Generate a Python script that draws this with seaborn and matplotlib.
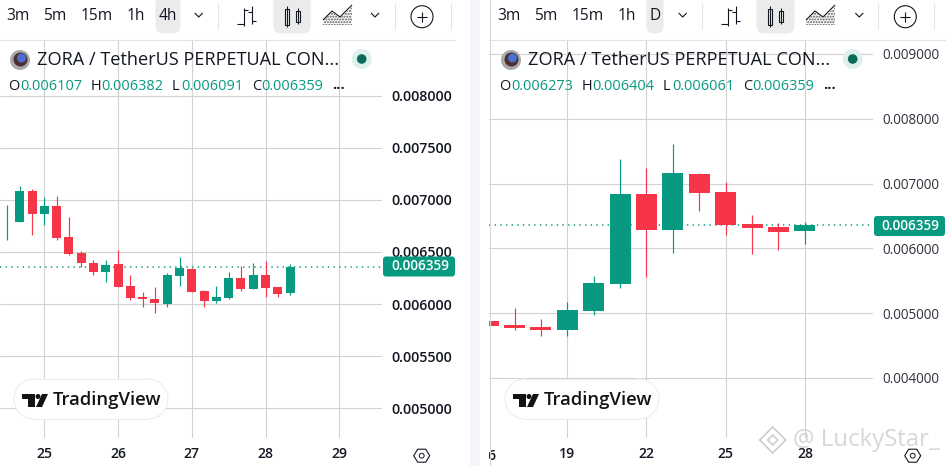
from __future__ import annotations

import matplotlib

matplotlib.use("Agg")
import matplotlib.pyplot as plt
import numpy as np
import pandas as pd
import seaborn as sns
from matplotlib.patches import Circle, FancyBboxPatch, Polygon, Rectangle

GREEN = "#089981"
RED = "#F63648"
GRID = "#D2D2D2"
INK = "#131722"
W, H = 946, 466

# 4h candles
open_4h = [0.006795, 0.006789, 0.007086, 0.006865, 0.006942, 0.006645, 0.006492, 0.006396,
           0.006310, 0.006386, 0.006176, 0.006070, 0.006051, 0.006003, 0.006271, 0.006338,
           0.006128, 0.006032, 0.006061, 0.006252, 0.006147, 0.006281, 0.006166, 0.006107]
high_4h = [0.006951, 0.007134, 0.007105, 0.007028, 0.007038, 0.006837, 0.006511, 0.006425,
           0.006425, 0.006520, 0.006281, 0.006118, 0.006166, 0.006300, 0.006453, 0.006348,
           0.006137, 0.006176, 0.006310, 0.006367, 0.006396, 0.006415, 0.006166, 0.006382]
low_4h = [0.006616, 0.006789, 0.006664, 0.006760, 0.006616, 0.006473, 0.006358, 0.006281,
          0.006214, 0.006166, 0.006042, 0.005974, 0.005917, 0.005974, 0.006176, 0.006118,
          0.005974, 0.006013, 0.006051, 0.006128, 0.006147, 0.006070, 0.006070, 0.006091]
close_4h = [0.006797, 0.007086, 0.006865, 0.006942, 0.006635, 0.006482, 0.006396, 0.006310,
            0.006377, 0.006166, 0.006061, 0.006051, 0.006013, 0.006281, 0.006348, 0.006118,
            0.006032, 0.006070, 0.006252, 0.006147, 0.006281, 0.006156, 0.006099, 0.006359]
first_day_4h = 24.5
ticks_4h = [25, 26, 27, 28, 29]
prices_4h = [0.005, 0.0055, 0.006, 0.0065, 0.007, 0.0075, 0.008]

# daily candles
days_1d = [16, 17, 18, 19, 20, 21, 22, 23, 24, 25, 26, 27, 28]
open_1d = [0.004873, 0.004811, 0.004780, 0.004734, 0.005028, 0.005447, 0.006842,
           0.006284, 0.007152, 0.006873, 0.006377, 0.006331, 0.006273]
high_1d = [0.004873, 0.005075, 0.004904, 0.005168, 0.005571, 0.007385, 0.007245,
           0.007618, 0.007168, 0.007028, 0.006517, 0.006393, 0.006404]
low_1d = [0.004796, 0.004734, 0.004641, 0.004641, 0.004966, 0.005385, 0.005556,
          0.005928, 0.006579, 0.006207, 0.005912, 0.005974, 0.006061]
close_1d = [0.004796, 0.004765, 0.004734, 0.005044, 0.005463, 0.006842, 0.006284,
            0.007168, 0.006858, 0.006362, 0.006315, 0.006253, 0.006359]
ticks_1d = [19, 22, 25, 28]
prices_1d = [0.004, 0.005, 0.006, 0.007, 0.008, 0.009]

last_price = 0.006359
ohlc_4h = ["0.006107", "0.006382", "0.006091", "0.006359"]
ohlc_1d = ["0.006273", "0.006404", "0.006061", "0.006359"]
title = "ZORA / TetherUS PERPETUAL CON..."

sns.set_theme(style="white")
plt.rcParams["font.family"] = ["Open Sans", "DejaVu Sans"]

fig = plt.figure(figsize=(W / 100, H / 100), dpi=100, facecolor="white")


def px(n):
    return n * 0.72


def add_chart(x0, x1, y_top, y_bot, xlim, ylim):
    ax = fig.add_axes([x0 / W, 1 - y_bot / H, (x1 - x0) / W, (y_bot - y_top) / H])
    ax.set_xlim(*xlim)
    ax.set_ylim(*ylim)
    sns.despine(ax=ax, left=True, bottom=True, right=True, top=True)
    ax.set_facecolor("none")
    return ax


def candles(ax, days, o, h, l, c, width):
    df = pd.DataFrame({"day": days, "open": o, "high": h, "low": l, "close": c})
    df["up"] = df["close"] >= df["open"]
    wicks = df.melt(id_vars=["day", "up"], value_vars=["high", "low"], value_name="price")
    sns.lineplot(data=wicks, x="day", y="price", hue="up", units="day", estimator=None,
                 palette={True: GREEN, False: RED}, legend=False, lw=0.85, ax=ax, zorder=3,
                 solid_capstyle="butt")
    ax.bar(df["day"], (df["close"] - df["open"]).abs(), bottom=df[["open", "close"]].min(axis=1),
           width=width, color=df["up"].map({True: GREEN, False: RED}), linewidth=0, zorder=4)
    ax.set_xlabel("")
    ax.set_ylabel("")


def finish_axes(ax, xticks, yticks, bold, ycolor, ysize):
    ax.set_xticks(xticks)
    ax.set_yticks(yticks)
    ax.set_yticklabels([f"{v:.6f}" for v in yticks])
    ax.yaxis.tick_right()
    ax.grid(True, color=GRID, lw=0.8, zorder=0)
    ax.set_axisbelow(True)
    ax.tick_params(axis="both", length=0, colors=INK)
    ax.tick_params(axis="y", pad=px(9), labelsize=px(ysize))
    ax.tick_params(axis="x", pad=px(9), labelsize=px(14))
    for t in ax.get_yticklabels():
        t.set_fontweight(bold)
        t.set_color(ycolor)
    for t in ax.get_xticklabels():
        t.set_fontweight("semibold")
    ax.axhline(last_price, color=GREEN, lw=1.1, ls=(0, (0.9, 2.8)), zorder=2)


left = add_chart(0, 382, 40, 438, (24.399, 29.579), (0.004717, 0.008532))
days_4h = first_day_4h + np.arange(len(open_4h)) / 6
candles(left, days_4h, open_4h, high_4h, low_4h, close_4h, 0.122)
finish_axes(left, ticks_4h, prices_4h, "semibold", INK, 14.2)

right = add_chart(489, 873, 40, 438, (16.034, 30.58), (0.003074, 0.009216))
candles(right, days_1d, open_1d, high_1d, low_1d, close_1d, 0.795)
finish_axes(right, ticks_1d, prices_1d, "normal", "#2E323C", 13.5)

# everything around the charts lives in a pixel-space overlay
ov = fig.add_axes([0, 0, 1, 1], zorder=10)
ov.set_xlim(0, W)
ov.set_ylim(H, 0)
ov.axis("off")
ov.patch.set_alpha(0)


def label(x, y, s, size=15, color=INK, ha="center", weight="normal", **kw):
    return ov.text(x, y, s, fontsize=px(size), color=color, ha=ha, va="center",
                   fontweight=weight, **kw)


def seg(xs, ys, color=INK, lw=0.8, **kw):
    ov.plot(xs, ys, color=color, lw=lw, solid_capstyle="butt", **kw)


def chevron(x, y):
    seg([x - 4, x, x + 4], [y - 2, y + 2, y - 2], lw=0.8)


def highlight(x0, x1):
    ov.add_patch(FancyBboxPatch((x0 + 4, -6), x1 - x0 - 8, 37, boxstyle="round,pad=0,rounding_size=5",
                                mutation_aspect=1, fc="#EBEBEB", ec="#EBEBEB", lw=5 * 0.72))


def toolbar(xs, active):
    for x, s in zip(xs["labels"], ["3m", "5m", "15m", "1h", active]):
        label(x, 16, s, size=15.5)
    highlight(*xs["active"])
    highlight(*xs["candle"])
    chevron(xs["chev1"], 15)
    chevron(xs["chev2"], 15)
    for d in xs["div"]:
        seg([d, d], [3, 29], color="#E4E4E4")
    # bars icon
    b = xs["bars"]
    seg([b - 3, b - 3], [8, 26])
    seg([b - 10, b - 3], [24, 24])
    seg([b - 3, b + 1], [10, 10])
    seg([b + 5, b + 5], [6, 24])
    seg([b + 1, b + 5], [12, 12])
    seg([b + 5, b + 9], [21, 21])
    # candles icon
    c = xs["cand"]
    seg([c, c], [6, 27])
    ov.add_patch(Rectangle((c - 2, 8.5), 4, 16.5, fc="#EBEBEB", ec=INK, lw=0.8))
    seg([c + 11, c + 11], [8, 24])
    ov.add_patch(Rectangle((c + 9, 11), 4, 10.5, fc="#EBEBEB", ec=INK, lw=0.8))
    # area icon
    a = xs["area"]
    ov.add_patch(Polygon([(a, 25), (a, 21), (a + 9, 12), (a + 17, 18), (a + 29, 7), (a + 29, 25)],
                         fc="none", ec="#555555", hatch="......", lw=0))
    seg([a, a + 9, a + 17, a + 29], [20, 11, 17, 5], lw=0.8)
    # plus
    p = xs["plus"]
    ov.add_patch(Circle((p, 16.7), 11, fc="none", ec=INK, lw=0.8))
    seg([p - 5, p + 5], [16.7, 16.7])
    seg([p, p], [11.7, 21.7])


def header(dx, ohlc):
    ov.add_patch(Circle((20 + dx, 60), 10, fc="#A9A9AD", ec="none"))
    ov.add_patch(Circle((20.5 + dx, 59.5), 7, fc="#4A2F2C", ec="none"))
    ov.add_patch(Circle((21.5 + dx, 58), 4.5, fc="#4A6FD0", ec="none"))
    label(36.7 + dx, 60, title, size=18.1, ha="left")
    ov.add_patch(Circle((361.7 + dx, 59), 10, fc="#DDF0EC", ec="none"))
    ov.add_patch(Circle((361.7 + dx, 59), 4.8, fc="#0B6B5A", ec="none"))
    for x, letter, vx, val in zip([8, 90.7, 172, 251.7], "OHLC", [20, 101.7, 181, 261.7], ohlc):
        label(x + dx, 86, letter, size=14.5, ha="left")
        label(vx + dx, 86, val, size=14.5, ha="left", color=GREEN)
    label(332.5 + dx, 85, "...", size=14.5, ha="left", weight="bold")


def price_tag(x0, x1, y):
    ov.add_patch(FancyBboxPatch((x0 + 2, y - 9), x1 - x0 - 4, 18, boxstyle="round,pad=0,rounding_size=2",
                                fc=GREEN, ec=GREEN, lw=2 * 0.72))
    label((x0 + x1) / 2 + 1, y, f"{last_price:.6f}", size=13.5, color="white", weight="semibold")


def logo(dx):
    for cx in (34 + dx, 148 + dx):
        ov.add_patch(Circle((cx, 399), 20, fc="white", ec="#EDEDED", lw=0.8))
    ov.add_patch(Rectangle((33 + dx, 379), 116, 40, fc="white", ec="none"))
    seg([34 + dx, 148 + dx], [379, 379], color="#EDEDED")
    seg([34 + dx, 148 + dx], [419, 419], color="#EDEDED")
    ov.add_patch(Rectangle((22 + dx, 394), 12.5, 5, fc="#131313", ec="none"))
    ov.add_patch(Rectangle((28 + dx, 394), 6.5, 13, fc="#131313", ec="none"))
    ov.add_patch(Circle((38 + dx, 396.5), 2.5, fc="#131313", ec="none"))
    ov.add_patch(Polygon([(42 + dx, 394), (48 + dx, 394), (42 + dx, 407), (36 + dx, 407)], fc="#131313", ec="none"))
    label(53 + dx, 400, "TradingView", size=18.5, ha="left", weight="semibold", color="#131313")


def hexagon(cx, cy):
    ov.add_patch(Polygon([(cx - 8, cy), (cx - 4, cy - 6.5), (cx + 4, cy - 6.5), (cx + 8, cy),
                          (cx + 4, cy + 6.5), (cx - 4, cy + 6.5)], fc="white", ec=INK, lw=0.8, zorder=6))
    ov.add_patch(Circle((cx, cy), 2.4, fc="white", ec=INK, lw=0.7, zorder=7))


seg([0, 460], [39.5, 39.5], color="#E0E3E8")
seg([489, 946], [39.5, 39.5], color="#E0E3E8")

toolbar({"labels": [17.5, 55, 96.7, 135.7, 167.7], "active": (154, 182), "candle": (272, 312),
         "chev1": 198.7, "chev2": 375, "div": [218, 394.7, 450.7], "bars": 247, "cand": 287,
         "area": 323, "plus": 422}, "4h")
toolbar({"labels": [508.5, 546, 587.7, 626.7, 655.3], "active": (645, 665), "candle": (755, 796),
         "chev1": 682.7, "chev2": 859.3, "div": [701.7, 877.7, 934], "bars": 731, "cand": 770,
         "area": 806, "plus": 905.3}, "D")

header(0, ohlc_4h)
header(491, ohlc_1d)
price_tag(382, 456, 266.5)
price_tag(873, 946, 226)
logo(0)
logo(491)
hexagon(421.7, 455.7)

# the "16" label is cut by the panel edge: white gap and pale strip sit on top of it
label(489, 455.5, "16", size=14, weight="semibold")
ov.add_patch(Rectangle((456, 0), 33, H, fc="white", ec="none", zorder=4))
ov.add_patch(Rectangle((470, 0), 10, H, fc="#F4F5F9", ec="none", zorder=5))
seg([489.5, 489.5], [0, H], color="#D8D8D8", zorder=5)

# watermark
wm = "#D0D0D0"
for r in (13, 5):
    ov.add_patch(Polygon([(772.7 - r, 440), (772.7, 440 - r), (772.7 + r, 440), (772.7, 440 + r)],
                         fc="none", ec=wm, lw=1.3, zorder=8))
label(792.5, 440, "@ LuckyStar_", size=24, ha="left", color=wm, zorder=8, alpha=0.85)
hexagon(912.7, 455.7)

fig.savefig("out.png", dpi=100)
